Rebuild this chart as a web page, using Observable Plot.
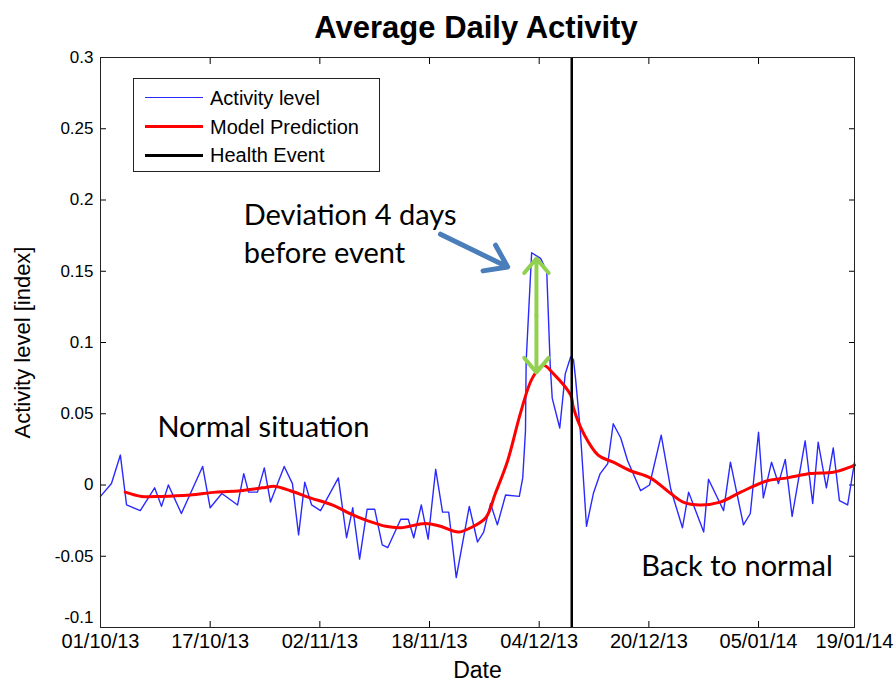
<!DOCTYPE html>
<html>
<head>
<meta charset="utf-8">
<script src="https://cdn.jsdelivr.net/npm/d3@7"></script>
<script src="https://cdn.jsdelivr.net/npm/@observablehq/plot@0.6"></script>
<style>
  body { margin: 0; background: #fff; }
  #wrap { position: relative; width: 896px; height: 682px; background: #fff; }
  #title { position: absolute; left: 0; top: 0; width: 896px; height: 45px; text-align: center;
           font: bold 31px "Liberation Sans", Arial, sans-serif; line-height: 56px; text-indent: 56px; color: #000; }
  #chart { position: absolute; left: 0; top: 45px; }
  #legend { position: absolute; left: 133px; top: 78px; width: 247px; height: 94px; border: 1px solid #222;
            background: #fff; font: 20px "Liberation Sans", Arial, sans-serif; color: #000; box-sizing: border-box; }
  .row { position: absolute; left: 0; height: 20px; }
  .sw { position: absolute; left: 11px; width: 58px; top: 10px; }
  .lab { position: absolute; left: 76px; top: 0; white-space: nowrap; line-height: 20px; }
</style>
</head>
<body>
<div id="wrap">
  <div id="title">Average Daily Activity</div>
  <div id="chart"></div>
  <div id="legend"></div>
</div>
<script>
// ---- data (days since 01/10/2013) ----
const startDate = "2013-10-01";
const endDate = "2014-01-19";

const activityDay = [0.0, 1.6, 2.9, 3.8, 5.8, 7.9, 8.9, 9.9, 11.8, 14.9, 16.0, 17.7, 20.0, 20.9, 21.6, 22.9, 23.9, 24.8,
  26.8, 28.0, 28.9, 29.8, 30.8, 32.1, 34.7, 35.9, 36.8, 37.8, 38.9, 40.0, 41.1, 41.9, 43.8, 44.9, 45.7, 46.8, 47.8,
  48.9, 49.9, 50.8, 51.9, 53.8, 55.0, 55.9, 56.9, 57.9, 59.1, 61.1, 61.6, 62.0, 62.1, 62.9, 64.2, 65.1, 65.6, 65.9,
  67.0, 67.8, 68.6, 69.0, 69.3, 70.0, 70.9, 71.9, 72.9, 74.0, 74.8, 75.9, 76.9, 78.8, 80.1, 81.8, 83.2, 84.9, 85.8,
  88.0, 88.7, 90.9, 91.9, 93.8, 94.8, 96.0, 96.7, 97.9, 98.9, 99.9, 100.9, 102.8, 103.9, 104.7, 105.9, 106.9, 107.8,
  109.0, 110.0];
const activityValue = [-0.008, 0.001, 0.021, -0.014, -0.018, -0.002, -0.015, 0.000, -0.020, 0.013, -0.016, -0.006,
  -0.014, 0.008, -0.005, -0.005, 0.012, -0.012, 0.013, 0.001, -0.035, 0.002, -0.014, -0.018, 0.005, -0.037, -0.016,
  -0.052, -0.017, -0.017, -0.042, -0.044, -0.024, -0.024, -0.037, -0.014, -0.038, 0.011, -0.019, -0.019, -0.065,
  -0.015, -0.040, -0.033, -0.013, -0.028, -0.007, -0.008, 0.005, 0.038, 0.087, 0.163, 0.159, 0.150, 0.085, 0.061,
  0.040, 0.078, 0.090, 0.088, 0.075, 0.038, -0.029, -0.006, 0.008, 0.015, 0.043, 0.033, 0.017, -0.004, 0.000, 0.035,
  -0.003, -0.030, -0.005, -0.033, 0.004, -0.018, 0.016, -0.028, -0.020, 0.037, -0.009, 0.016, 0.001, 0.018, -0.022,
  0.031, -0.013, 0.030, -0.002, 0.026, -0.011, -0.014, 0.016];

const modelDay = [3.6, 6.0, 8.8, 13.1, 16.8, 20.4, 23.6, 25.5, 27.7, 30.6, 33.8, 36.8, 38.9, 41.6, 43.8, 47.4, 49.6,
  52.2, 54.0, 56.2, 57.6, 59.4, 61.3, 63.0, 64.6, 66.1, 68.6, 69.0, 70.5, 72.6, 74.8, 77.3, 80.2, 83.2, 85.0, 87.5,
  90.4, 93.4, 97.3, 100.2, 103.6, 106.9, 109.0, 110.0];
const modelValue = [-0.005, -0.008, -0.008, -0.007, -0.005, -0.004, -0.002, -0.001, -0.004, -0.009, -0.014, -0.021,
  -0.025, -0.029, -0.030, -0.027, -0.029, -0.033, -0.030, -0.023, -0.006, 0.017, 0.051, 0.075, 0.084, 0.078, 0.063,
  0.054, 0.036, 0.021, 0.016, 0.010, 0.005, -0.006, -0.012, -0.014, -0.012, -0.005, 0.003, 0.005, 0.008, 0.009,
  0.012, 0.014];

const eventDay = 68.75;

const xTickDates = ["2013-10-01", "2013-10-17", "2013-11-02", "2013-11-18", "2013-12-04", "2013-12-20", "2014-01-05", "2014-01-19"];
const yTicks = [-0.1, -0.05, 0, 0.05, 0.1, 0.15, 0.2, 0.25, 0.3];
const yTickLabels = ["-0.1", "-0.05", "0", "0.05", "0.1", "0.15", "0.2", "0.25", "0.3"];

// annotations: [dayOffset, value, text]
const notes = [
  [8.3, 0.040, "Normal situation"],
  [20.9, 0.189, "Deviation 4 days"],
  [20.9, 0.162, "before event"],
  [78.9, -0.057, "Back to normal"]
];
const blueArrow = {day1: 49.6, v1: 0.176, day2: 59.4, v2: 0.153};
const greenArrow = {day: 63.6, v1: 0.159, v2: 0.079};

const legendItems = [
  {label: "Activity level", color: "#2a2aff", width: 1.3},
  {label: "Model Prediction", color: "#ff0000", width: 3},
  {label: "Health Event", color: "#000000", width: 3}
];

// ---- build ----
const t0 = Date.UTC(2013, 9, 1);
const toDate = d => new Date(t0 + d * 864e5);
const activity = activityDay.map((d, i) => ({date: toDate(d), value: activityValue[i]}));
const model = modelDay.map((d, i) => ({date: toDate(d), value: modelValue[i]}));
const xTicks = xTickDates.map(s => new Date(s + "T00:00:00Z"));
const fmt = d3.utcFormat("%d/%m/%y");
const noteData = notes.map(([d, v, t]) => ({date: toDate(d), value: v, text: t}));
const greenMid = (greenArrow.v1 + greenArrow.v2) / 2;
const yMain = yTicks.slice(1), yMainLabels = yTickLabels.slice(1);

const chart = Plot.plot({
  width: 896,
  height: 637,
  marginLeft: 100,
  marginRight: 42,
  marginTop: 12,
  marginBottom: 55,
  x: {type: "utc", domain: [new Date(startDate + "T00:00:00Z"), new Date(endDate + "T00:00:00Z")]},
  y: {domain: [-0.1, 0.3]},
  style: {fontFamily: "'Liberation Sans', Arial, sans-serif", fontSize: "17px", color: "#000", background: "#fff"},
  marks: [
    Plot.axisX({anchor: "bottom", ticks: xTicks, tickFormat: fmt, tickSize: -6, tickPadding: 12, label: null, fontSize: 20}),
    Plot.axisX({anchor: "top", ticks: xTicks, tickSize: -6, tickFormat: () => "", label: null}),
    Plot.axisY({anchor: "left", ticks: yMain, tickFormat: (d, i) => yMainLabels[i], tickSize: -6, tickPadding: 13, label: null, fontSize: 17}),
    Plot.axisY({anchor: "left", ticks: [yTicks[0]], tickFormat: () => yTickLabels[0], tickSize: 0, tickPadding: 7, dy: -10, label: null, fontSize: 17}),
    Plot.axisY({anchor: "right", ticks: yTicks, tickSize: -6, tickFormat: () => "", label: null}),
    Plot.line(activity, {x: "date", y: "value", stroke: "#2a2aff", strokeWidth: 1.4}),
    Plot.line(model, {x: "date", y: "value", stroke: "#ff0000", strokeWidth: 3, curve: "catmull-rom"}),
    Plot.ruleX([toDate(eventDay)], {stroke: "#000", strokeWidth: 2.5}),
    Plot.arrow([blueArrow], {x1: d => toDate(d.day1), y1: "v1", x2: d => toDate(d.day2), y2: "v2",
      stroke: "#4a7ebb", strokeWidth: 5, headLength: 16, headAngle: 70}),
    Plot.arrow([greenArrow, greenArrow], {x1: d => toDate(d.day), x2: d => toDate(d.day),
      y1: () => greenMid, y2: (d, i) => i === 0 ? d.v1 : d.v2,
      stroke: "#92d050", strokeWidth: 4, headLength: 12, headAngle: 80}),
    Plot.text(noteData, {x: "date", y: "value", text: "text", textAnchor: "start",
      fontFamily: "Lato, 'Open Sans', sans-serif", fontSize: 29, fill: "#000"}),
    Plot.text(["Date"], {frameAnchor: "bottom", dy: 50, fontSize: 23}),
    Plot.text(["Activity level [index]"], {frameAnchor: "left", dx: -78, rotate: -90, textAnchor: "middle", fontSize: 22}),
    Plot.frame({stroke: "#222", strokeWidth: 1})
  ]
});
document.getElementById("chart").appendChild(chart);

const legend = document.getElementById("legend");
legendItems.forEach((it, i) => {
  const row = document.createElement("div");
  row.className = "row";
  row.style.top = (9 + i * 28.5) + "px";
  row.style.width = "100%";
  const sw = document.createElement("div");
  sw.className = "sw";
  sw.style.borderTop = it.width + "px solid " + it.color;
  sw.style.marginTop = (-it.width / 2) + "px";
  const lab = document.createElement("div");
  lab.className = "lab";
  lab.textContent = it.label;
  row.appendChild(sw);
  row.appendChild(lab);
  legend.appendChild(row);
});
</script>
</body>
</html>
